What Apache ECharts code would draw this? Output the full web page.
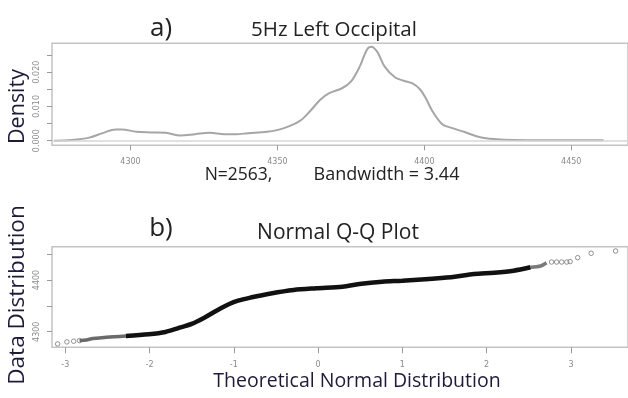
<!DOCTYPE html>
<html>
<head>
<meta charset="utf-8">
<script src="https://cdn.jsdelivr.net/npm/echarts@6.0.0/dist/echarts.min.js"></script>
<style>
html,body{margin:0;padding:0;background:#fff;}
#c{width:628px;height:398px;}
</style>
</head>
<body>
<div id="c"></div>
<script>
// ---- Panel a) density curve ----
var densX = [4274, 4280, 4286, 4290.5, 4295, 4297, 4302, 4307, 4312, 4317, 4322, 4327, 4332, 4336, 4340, 4346.5, 4352, 4357.5, 4361, 4364.5, 4367.5, 4372, 4375, 4378, 4380.5, 4382, 4384, 4386.5, 4390, 4393, 4396, 4398.5, 4400.5, 4402.5, 4406, 4409, 4413.5, 4419, 4425, 4430, 4441, 4461];
var densY = [0, 0.0002, 0.0009, 0.0022, 0.0033, 0.0033, 0.0026, 0.0024, 0.0023, 0.0015, 0.0019, 0.0023, 0.0019, 0.0019, 0.0022, 0.0026, 0.0036, 0.0057, 0.0085, 0.0119, 0.0138, 0.0153, 0.0172, 0.0216, 0.0266, 0.0274, 0.0259, 0.0216, 0.0185, 0.0175, 0.0167, 0.0150, 0.0124, 0.0090, 0.0049, 0.0038, 0.0026, 0.0010, 0.0004, 0.0002, 0.0001, 0.0001];
var densXTicks = [4300, 4350, 4400, 4450];
var densYTicks = [0, 0.005, 0.010, 0.015, 0.020, 0.025];
var densYLabels = [0, 0.010, 0.020];

// ---- Panel b) normal Q-Q plot ----
// dense band (overlapping points), read along its centre
var qqBandLeftQ = [-2.83, -2.75, -2.67, -2.51, -2.28];
var qqBandLeftV = [4282.8, 4284.2, 4286.7, 4289.4, 4291.9];
var qqBandQ = [-2.28, -2.01, -1.81, -1.66, -1.50, -1.34, -1.19, -1.06, -0.95, -0.80, -0.56, -0.29, -0.02, 0.29, 0.49, 0.76, 1.00, 1.27, 1.39, 1.62, 1.85, 2.09, 2.32, 2.52];
var qqBandV = [4291.9, 4295.2, 4299.6, 4306.8, 4315.1, 4328.0, 4342.0, 4353.0, 4360.0, 4366.0, 4374.0, 4380.7, 4384.0, 4387.1, 4392.3, 4396.7, 4398.5, 4401.5, 4402.8, 4406.4, 4411.6, 4414.1, 4418.0, 4424.5];
var qqBandRightQ = [2.52, 2.64, 2.71];
var qqBandRightV = [4424.5, 4427.0, 4433.4];
// individually visible points in the tails
var qqTailQ = [-3.09, -2.98, -2.90, -2.83, 2.77, 2.83, 2.89, 2.95, 2.99, 3.08, 3.24, 3.53];
var qqTailV = [4276.4, 4280.3, 4281.7, 4282.8, 4434.7, 4434.7, 4434.7, 4434.7, 4435.5, 4443.1, 4451.5, 4456.0];
var qqXTicks = [-3, -2, -1, 0, 1, 2, 3];
var qqYTicks = [4300, 4350, 4400, 4450];
var qqYLabels = [4300, 4400];

function zip(a, b) { return a.map(function (v, i) { return [v, b[i]]; }); }

var tickLine = { color: '#9a9a9a', width: 1 };
var tickLabel = { fontSize: 8, color: '#8a8a8a', fontFamily: 'DejaVu Sans' };
var noLine = { show: false, onZero: false };
var textDark = '#222';
var labelCol = '#1e1b3a';
var FF = 'Open Sans';
function plain(v) { return String(Math.round(v)); }

var chart = echarts.init(document.getElementById('c'), null, { renderer: 'canvas' });
chart.setOption({
  animation: false,
  backgroundColor: '#fff',
  grid: [
    { left: 52, top: 43.3, width: 584, height: 102, show: true, borderColor: '#c4c4c4', borderWidth: 1.5, backgroundColor: 'transparent' },
    { left: 52, top: 246.7, width: 584, height: 100.6, show: true, borderColor: '#c4c4c4', borderWidth: 1.5, backgroundColor: 'transparent' }
  ],
  xAxis: [
    { gridIndex: 0, type: 'value', min: 4273.3, max: 4469.3,
      axisLine: noLine, splitLine: { show: false },
      axisTick: { show: true, customValues: densXTicks, length: 5, lineStyle: tickLine },
      axisLabel: Object.assign({ customValues: densXTicks, margin: 13, formatter: plain }, tickLabel) },
    { gridIndex: 1, type: 'value', min: -3.157, max: 3.677,
      axisLine: noLine, splitLine: { show: false },
      axisTick: { show: true, customValues: qqXTicks, length: 6, lineStyle: tickLine },
      axisLabel: Object.assign({ customValues: qqXTicks, margin: 14, formatter: plain }, tickLabel) }
  ],
  yAxis: [
    { gridIndex: 0, type: 'value', min: -0.00134, max: 0.02841,
      axisLine: noLine, splitLine: { show: false },
      axisTick: { show: true, customValues: densYTicks, length: 5, lineStyle: tickLine },
      axisLabel: Object.assign({ customValues: densYLabels, rotate: 90, margin: 11, formatter: function (v) { return v.toFixed(3); } }, tickLabel) },
    { gridIndex: 1, type: 'value', min: 4269.9, max: 4464.3,
      axisLine: noLine, splitLine: { show: false },
      axisTick: { show: true, customValues: qqYTicks, length: 5, lineStyle: tickLine },
      axisLabel: Object.assign({ customValues: qqYLabels, rotate: 90, margin: 11, formatter: plain }, tickLabel) }
  ],
  series: [
    { type: 'line', xAxisIndex: 0, yAxisIndex: 0, data: zip(densX, densY), smooth: 0.35,
      showSymbol: false, lineStyle: { color: '#a6a6a6', width: 2 },
      markLine: { silent: true, symbol: 'none', label: { show: false },
        lineStyle: { color: '#d6d6d6', width: 1.5, type: 'solid' }, data: [{ yAxis: 0 }] } },
    { type: 'line', xAxisIndex: 1, yAxisIndex: 1, data: zip(qqBandLeftQ, qqBandLeftV), smooth: 0.3,
      showSymbol: false, lineStyle: { color: '#6a6a6a', width: 3.5 } },
    { type: 'line', xAxisIndex: 1, yAxisIndex: 1, data: zip(qqBandRightQ, qqBandRightV), smooth: 0.3,
      showSymbol: false, lineStyle: { color: '#7a7a7a', width: 3.5 } },
    { type: 'line', xAxisIndex: 1, yAxisIndex: 1, data: zip(qqBandQ, qqBandV), smooth: 0.3,
      showSymbol: false, lineStyle: { color: '#111', width: 4.5 } },
    { type: 'scatter', xAxisIndex: 1, yAxisIndex: 1, data: zip(qqTailQ, qqTailV),
      symbol: 'circle', symbolSize: 4.5,
      itemStyle: { color: 'rgba(255,255,255,0)', borderColor: '#777', borderWidth: 1 } }
  ],
  graphic: [
    { type: 'text', x: 161, y: 28.5, style: { text: 'a)', fontSize: 26, fontFamily: FF, fill: textDark, textAlign: 'center', textVerticalAlign: 'middle' } },
    { type: 'text', x: 334, y: 30, style: { text: '5Hz Left Occipital', fontSize: 20.5, fontFamily: FF, fill: textDark, textAlign: 'center', textVerticalAlign: 'middle' } },
    { type: 'text', x: 238.5, y: 175, style: { text: 'N=2563,', fontSize: 17.5, fontFamily: FF, fill: textDark, textAlign: 'center', textVerticalAlign: 'middle' } },
    { type: 'text', x: 386.5, y: 175, style: { text: 'Bandwidth = 3.44', fontSize: 18, fontFamily: FF, fill: textDark, textAlign: 'center', textVerticalAlign: 'middle' } },
    { type: 'text', x: 17.5, y: 106.5, rotation: Math.PI / 2, style: { text: 'Density', fontSize: 21.5, fontFamily: FF, fill: labelCol, textAlign: 'center', textVerticalAlign: 'middle' } },
    { type: 'text', x: 161, y: 228.5, style: { text: 'b)', fontSize: 26, fontFamily: FF, fill: textDark, textAlign: 'center', textVerticalAlign: 'middle' } },
    { type: 'text', x: 338, y: 233, style: { text: 'Normal Q-Q Plot', fontSize: 21, fontFamily: FF, fill: textDark, textAlign: 'center', textVerticalAlign: 'middle' } },
    { type: 'text', x: 17.5, y: 295, rotation: Math.PI / 2, style: { text: 'Data Distribution', fontSize: 22.5, fontFamily: FF, fill: labelCol, textAlign: 'center', textVerticalAlign: 'middle' } },
    { type: 'text', x: 357, y: 381, style: { text: 'Theoretical Normal Distribution', fontSize: 19.5, fontFamily: FF, fill: labelCol, textAlign: 'center', textVerticalAlign: 'middle' } }
  ]
});
</script>
</body>
</html>
